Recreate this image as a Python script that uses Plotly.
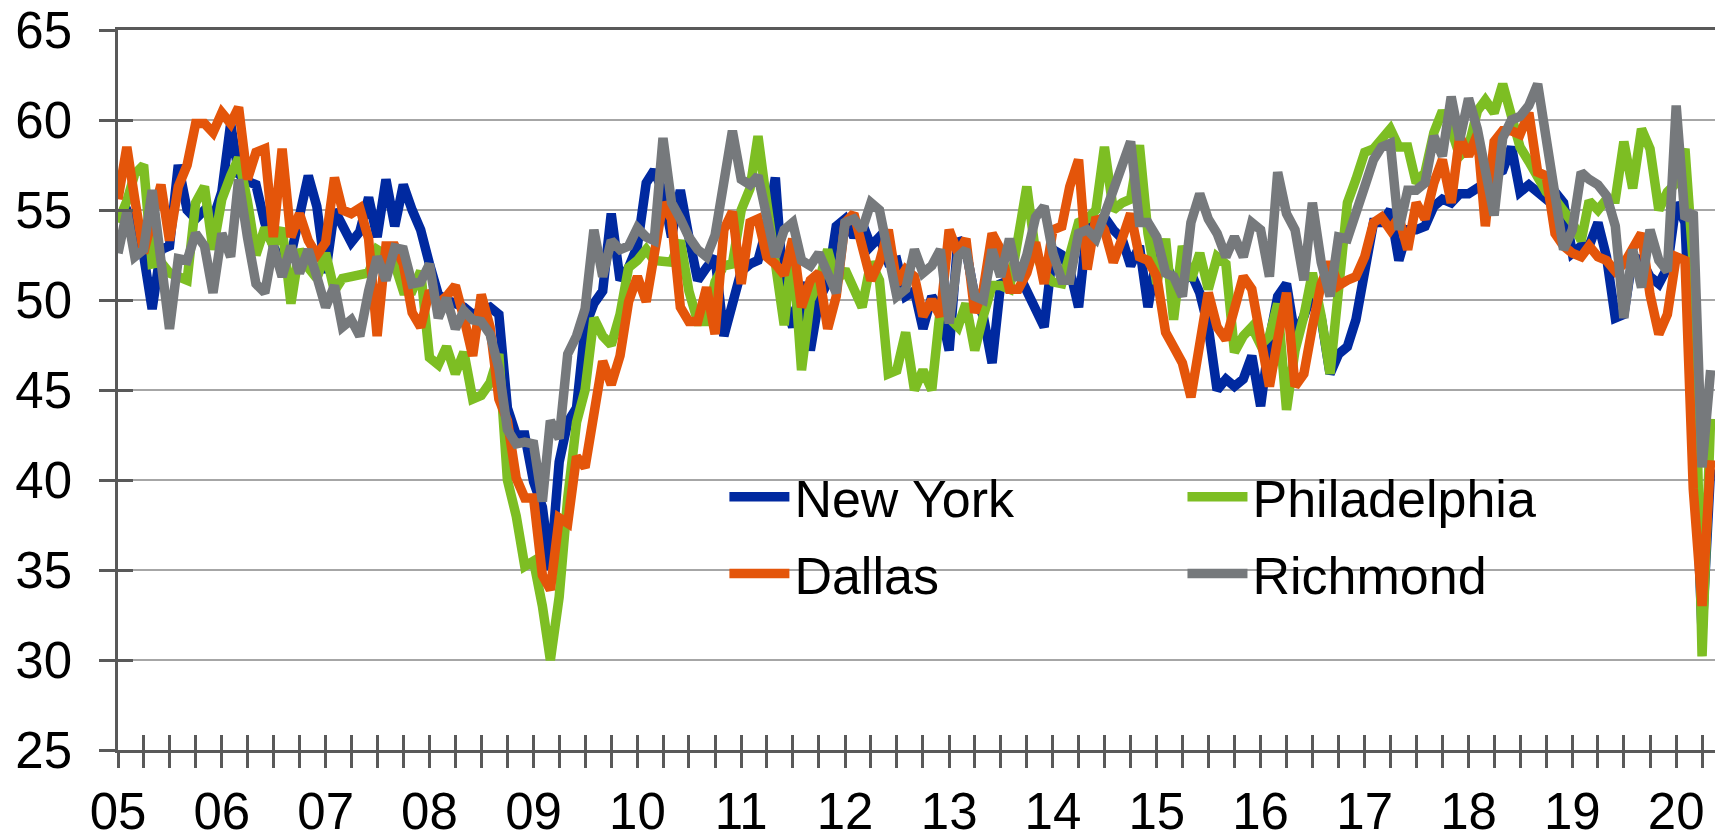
import pandas as pd
import plotly.graph_objects as go

# Monthly observations, Jan 2005 .. May 2020
start_month = "2005-01-01"
n_months = 185

new_york = [
    54.5, 55.0, 54.0, 52.5, 49.5, 52.8, 53.0, 57.5, 55.0, 54.5, 55.0, 54.5,
    56.0, 59.8, 57.0, 56.6, 56.4, 54.3, 53.0, 52.0, 52.5, 54.5, 56.9, 55.2,
    51.5, 55.0, 54.2, 53.2, 53.8, 55.7, 53.5, 56.7, 54.1, 56.4, 55.0, 53.9,
    52.0, 50.3, 50.0, 49.8, 49.6, 49.2, 49.4, 49.6, 49.2, 44.0, 42.5, 42.5,
    39.9, 38.5, 35.0, 41.0, 43.2, 44.0, 48.5, 49.8, 50.5, 54.8, 51.1, 51.8,
    53.0, 56.5, 57.2, 56.0, 53.5, 56.1, 53.5, 51.1, 51.8, 52.4, 48.0, 49.6,
    51.6, 52.0, 52.2, 54.0, 56.8, 50.0, 48.5, 51.0, 47.2, 50.0, 51.0, 54.1,
    54.5, 53.5, 54.3, 53.0, 53.5, 52.1, 52.2, 50.2, 50.5, 48.4, 50.2, 49.5,
    47.2, 53.4, 52.8, 50.2, 49.1, 46.5, 50.9, 51.1, 51.5, 50.5, 49.5, 48.5,
    52.8, 52.5, 51.7, 49.6, 54.1, 54.3, 54.6, 53.9, 53.4, 51.9, 53.0, 49.6,
    52.4, 52.0, 51.1, 51.0, 51.5, 50.4, 48.5, 45.0, 45.6, 45.2, 45.6, 46.9,
    44.1, 47.8, 50.2, 50.9, 48.0, 49.1, 50.4, 49.0, 45.9, 47.0, 47.4, 48.9,
    51.9, 54.3, 54.3, 55.0, 52.2, 53.9, 53.9, 54.1, 55.2, 55.6, 55.4, 55.9,
    55.9, 56.2, 56.5, 57.0, 57.2, 58.5, 56.0, 56.4, 56.0, 55.6, 56.0, 55.4,
    52.6, 53.0, 53.0, 54.3, 52.4, 49.0, 49.2, 52.4, 52.2, 51.3, 50.9, 51.8,
    55.4, 54.3, 44.0, 31.5, 40.6,
]

philadelphia = [
    54.3, 55.5, 57.0, 57.5, 52.0, 52.1, 51.5, 51.3, 51.1, 55.4, 56.3, 52.8,
    55.6, 56.9, 57.9, 55.5, 52.5, 54.0, 53.0, 54.0, 49.8, 52.8, 51.8, 51.2,
    52.6, 50.5, 51.2, 51.3, 51.4, 51.5, 52.8, 52.5, 52.0, 50.5, 50.5, 51.6,
    46.8, 46.4, 47.4, 45.9, 47.1, 44.5, 44.7, 45.4, 47.0, 40.0, 38.0, 35.2,
    35.5, 33.0, 30.0, 33.5, 39.0, 43.2, 45.0, 49.0, 48.0, 47.5, 49.2, 51.8,
    52.2, 52.8, 52.2, 52.2, 52.1, 53.3, 50.5, 48.8, 48.8, 51.0, 51.9, 52.0,
    55.0, 56.2, 59.1, 55.4, 52.0, 48.6, 53.0, 46.1, 50.0, 51.0, 52.8, 51.0,
    51.7, 50.5, 49.6, 52.1, 51.1, 45.9, 46.1, 48.2, 45.0, 46.1, 45.0, 49.5,
    49.0, 48.5, 49.8, 47.2, 49.1, 50.8, 50.8, 50.6, 53.5, 56.3, 52.6, 51.5,
    51.0, 50.9, 52.5, 54.3, 54.5, 55.0, 58.5, 55.0, 55.4, 55.6, 58.6, 53.7,
    50.9, 53.4, 48.9, 53.0, 51.1, 52.6, 50.6, 52.4, 52.0, 47.1, 48.0, 48.5,
    47.5, 48.0, 49.8, 43.9, 47.2, 49.1, 51.5, 49.1, 45.9, 51.3, 55.4, 56.7,
    58.2, 58.4, 58.9, 59.5, 58.5, 58.5, 56.5, 57.1, 59.3, 60.5, 59.5, 58.0,
    58.5, 60.5, 61.1, 60.4, 62.0, 60.0, 58.5, 57.7, 56.8, 56.0, 55.6, 55.0,
    54.3, 53.3, 55.5, 55.0, 55.6, 55.6, 58.8, 56.2, 59.5, 58.4, 55.0, 56.0,
    56.5, 58.4, 52.0, 30.2, 43.4,
]

dallas = [
    55.6, 58.5, 55.6, 52.6, 54.5, 56.4, 53.3, 56.3, 57.5, 59.8, 59.8, 59.3,
    60.4, 59.8, 60.7, 56.7, 58.2, 58.4, 53.5, 58.4, 53.5, 54.8, 53.3, 52.5,
    53.2, 56.8, 55.0, 54.8, 55.1, 53.4, 48.0, 53.0, 53.0, 52.0, 49.3, 48.5,
    50.5, 49.8, 50.2, 50.8, 49.0, 46.9, 50.3, 48.5, 44.5, 43.3, 40.1, 39.0,
    39.0, 34.7, 33.9, 37.9, 37.6, 41.3, 40.7, 43.7, 46.6, 45.3, 46.9, 49.9,
    51.3, 49.9, 52.8, 55.4, 54.5, 49.6, 48.8, 48.8, 50.7, 48.1, 53.9, 54.9,
    50.9, 54.3, 54.5, 52.4, 52.0, 51.4, 53.4, 49.6, 51.1, 51.5, 48.4, 50.2,
    54.3, 54.8, 53.0, 51.1, 52.1, 53.9, 50.9, 51.7, 51.3, 49.1, 50.0, 49.1,
    53.9, 52.6, 53.4, 49.3, 50.6, 53.7, 52.8, 50.6, 50.6, 51.5, 53.2, 50.9,
    53.9, 54.1, 56.3, 57.8, 51.7, 54.6, 53.9, 52.1, 53.4, 54.8, 52.4, 52.2,
    51.3, 48.2, 47.4, 46.5, 44.6, 47.5, 50.4, 48.5, 47.8, 49.5, 51.3, 50.6,
    48.2, 45.2, 47.8, 50.4, 45.2, 45.9, 48.5, 50.9, 52.1, 50.8, 51.1, 51.3,
    52.4, 54.3, 54.6, 53.9, 54.6, 52.8, 55.4, 54.5, 56.5, 57.8, 55.4, 59.1,
    58.0, 59.2, 54.1, 58.8, 59.4, 59.4, 59.2, 60.4, 57.1, 56.9, 53.7, 53.0,
    52.6, 52.4, 53.0, 52.4, 52.2, 51.6, 52.0, 53.0, 53.7, 50.3, 48.1, 49.2,
    52.4, 52.2, 39.5, 33.0, 41.1,
]

richmond = [
    52.6, 54.9, 52.4, 52.8, 56.1, 52.0, 48.4, 52.3, 52.2, 53.7, 53.0, 50.4,
    53.7, 52.4, 56.7, 53.5, 50.9, 50.4, 53.0, 51.3, 53.0, 51.5, 52.8, 51.3,
    49.6, 50.8, 48.5, 48.9, 48.0, 50.5, 52.4, 51.1, 52.9, 52.8, 50.9, 51.0,
    52.0, 49.0, 50.1, 48.4, 49.4, 48.9, 48.8, 48.1, 46.2, 42.8, 42.0, 42.1,
    42.0, 38.8, 43.3, 42.3, 47.0, 48.0, 49.5, 53.9, 51.3, 53.3, 52.8, 53.0,
    54.0, 53.5, 53.3, 59.0, 55.4, 54.5, 53.5, 52.8, 52.4, 53.6, 56.2, 59.4,
    56.7, 56.4, 56.9, 54.3, 52.4, 53.9, 54.3, 52.2, 51.9, 52.6, 51.3, 50.4,
    54.3, 54.5, 53.9, 55.4, 55.0, 52.4, 50.2, 50.6, 52.8, 51.5, 51.9, 52.8,
    48.7, 52.4, 52.8, 50.2, 50.0, 52.8, 51.3, 53.4, 51.1, 52.5, 54.6, 55.2,
    52.6, 51.1, 51.1, 53.7, 53.9, 53.4, 54.8, 56.3, 57.8, 58.8, 54.3, 54.3,
    53.5, 51.5, 51.3, 50.2, 54.3, 55.9, 54.5, 53.7, 52.4, 53.5, 52.4, 54.3,
    53.9, 51.3, 57.1, 54.8, 53.9, 51.1, 55.4, 52.1, 50.2, 53.5, 53.4, 55.0,
    56.3, 57.8, 58.5, 58.7, 53.9, 56.1, 56.1, 56.5, 59.1, 58.0, 61.3, 58.9,
    61.2, 59.5, 57.0, 54.7, 59.0, 60.0, 60.2, 60.8, 62.0, 59.0, 56.0, 52.8,
    53.9, 57.1, 56.7, 56.4, 55.8, 54.1, 49.0, 52.8, 50.7, 53.9, 52.2, 51.6,
    60.8, 54.5, 54.9, 40.7, 46.1,
]

series_names = ["New York", "Philadelphia", "Dallas", "Richmond"]
series_values = [new_york, philadelphia, dallas, richmond]
series_colors = ["#0029A0", "#7DBE23", "#E4550A", "#76797C"]
series_legend = ["legend", "legend2", "legend", "legend2"]
# last series is drawn on the overlay axes (which carry the inward half of the cross ticks)
series_axes = [("x", "y"), ("x", "y"), ("x", "y"), ("x2", "y2")]

months = pd.date_range(start_month, periods=n_months, freq="MS")

AXIS = "#595959"
GRID = "#A6A6A6"
FONT = "Liberation Sans, Arial, sans-serif"
x_range = ["2005-01-01", "2020-05-27"]
y_range = [25, 65]
LW = 9.5
TICK_SIZE = 51

fig = go.Figure()
for name, vals, col, lg, (xa, ya) in zip(series_names, series_values, series_colors,
                                          series_legend, series_axes):
    fig.add_trace(go.Scatter(
        x=months, y=vals, mode="lines", name=name,
        line=dict(color=col, width=LW),
        legend=lg, legendgroup=name, xaxis=xa, yaxis=ya,
    ))

fig.update_layout(
    width=1715, height=824,
    margin=dict(l=110, r=5, t=21.5, b=82, autoexpand=False),
    paper_bgcolor="white", plot_bgcolor="white",
    font=dict(family=FONT, color="black"),
    xaxis=dict(
        type="date", range=x_range, tick0="2005-01-01", dtick="M12", tickformat="%y",
        ticks="outside", ticklen=15, tickwidth=2.5, tickcolor=AXIS,
        minor=dict(dtick="M3", ticks="outside", ticklen=15, tickwidth=2.5, tickcolor=AXIS, showgrid=False),
        showgrid=False, showline=True, linecolor=AXIS, linewidth=2.5, mirror=True,
        tickfont=dict(size=TICK_SIZE, color="black", family=FONT), ticklabelstandoff=0,
        ticklabeloverflow="allow", automargin=False,
    ),
    xaxis2=dict(
        type="date", range=x_range, tick0="2005-01-01", dtick="M12", overlaying="x", anchor="y2",
        side="bottom", ticks="inside", ticklen=15, tickwidth=2.5, tickcolor=AXIS,
        minor=dict(dtick="M3", ticks="inside", ticklen=15, tickwidth=2.5, tickcolor=AXIS, showgrid=False),
        showgrid=False, showline=False, showticklabels=False, zeroline=False, automargin=False,
    ),
    yaxis=dict(
        range=y_range, dtick=5, tick0=25,
        ticks="outside", ticklen=16, tickwidth=2.5, tickcolor=AXIS,
        showgrid=True, gridcolor=GRID, gridwidth=2,
        showline=True, linecolor=AXIS, linewidth=2.5, mirror=True, zeroline=False,
        tickfont=dict(size=TICK_SIZE, color="black", family=FONT), ticklabelstandoff=17,
        ticklabeloverflow="allow", automargin=False,
    ),
    yaxis2=dict(
        range=y_range, dtick=5, tick0=25, overlaying="y", anchor="x2", side="left",
        ticks="inside", ticklen=15, tickwidth=2.5, tickcolor=AXIS,
        showgrid=False, showline=False, showticklabels=False, zeroline=False, automargin=False,
    ),
    legend=dict(
        x=0.3790, y=0.4076, xanchor="left", yanchor="top", itemwidth=60,
        bgcolor="rgba(0,0,0,0)", font=dict(size=52, color="black", family=FONT),
        traceorder="grouped", tracegroupgap=6,
    ),
    legend2=dict(
        x=0.6653, y=0.4076, xanchor="left", yanchor="top", itemwidth=60,
        bgcolor="rgba(0,0,0,0)", font=dict(size=52, color="black", family=FONT),
        traceorder="grouped", tracegroupgap=6,
    ),
    shapes=[dict(
        type="rect", xref="paper", yref="paper", x0=0.351, x1=0.9256, y0=0.23, y1=0.43,
        fillcolor="white", line=dict(width=0), layer="between",
    )],
    showlegend=True,
)

fig.write_html("out.html")
